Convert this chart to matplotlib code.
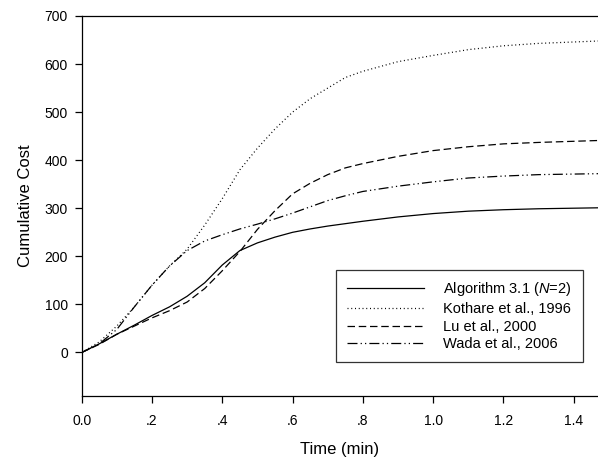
import matplotlib
matplotlib.use("Agg")
import matplotlib.pyplot as plt
import numpy as np

plt.rcParams['font.family'] = ['Liberation Sans', 'DejaVu Sans']
plt.rcParams['mathtext.fontset'] = 'custom'
plt.rcParams['mathtext.it'] = 'Liberation Sans:italic'
plt.rcParams['mathtext.rm'] = 'Liberation Sans'

# time (min)
t = [0.0, 0.05, 0.1, 0.15, 0.2, 0.25, 0.3, 0.35, 0.4, 0.45, 0.5, 0.55, 0.6,
     0.65, 0.7, 0.75, 0.8, 0.9, 1.0, 1.1, 1.2, 1.3, 1.47]

# cumulative cost of each method
algo31 = [0, 18, 38, 57, 77, 95, 117, 145, 182, 212, 228, 240, 250,
          257, 263, 268, 273, 282, 289, 294, 297, 299, 301]
kothare = [0, 22, 55, 95, 140, 180, 215, 265, 320, 380, 425, 465, 500,
           528, 550, 572, 585, 605, 618, 630, 638, 643, 648]
lu = [0, 17, 38, 55, 72, 87, 105, 133, 170, 210, 256, 295, 330,
      352, 370, 384, 393, 408, 420, 428, 434, 437, 441]
wada = [0, 18, 48, 95, 140, 180, 212, 232, 245, 257, 267, 278, 290,
        303, 316, 326, 335, 346, 355, 363, 367, 370, 372]

fig = plt.figure(figsize=(5.98, 4.57), dpi=100)
ax = fig.add_axes([0.1366, 0.134, 0.8634, 0.831])

ax.plot(t, algo31, color='black', lw=0.9, label='Algorithm 3.1 ($\\it{N}$=2)')
ax.plot(t, kothare, color='black', lw=0.9, dashes=(0.8, 2.2), label='Kothare et al., 1996')
ax.plot(t, lu, color='black', lw=0.9, dashes=(6, 3), label='Lu et al., 2000')
ax.plot(t, wada, color='black', lw=0.9, dashes=(8, 2.5, 1, 2.5, 1, 2.5), label='Wada et al., 2006')

ax.set_xlim(0, 1.469)
ax.set_ylim(-90, 700)
ax.set_xticks([0, 0.2, 0.4, 0.6, 0.8, 1.0, 1.2, 1.4])
ax.set_xticklabels(['0.0', '.2', '.4', '.6', '.8', '1.0', '1.2', '1.4'])
ax.set_yticks(np.arange(0, 701, 100))
ax.tick_params(direction='out', length=5, width=0.9, labelsize=10)
ax.tick_params(axis='x', pad=8)
ax.tick_params(axis='y', pad=5)
ax.spines['right'].set_visible(False)
for s in ['left', 'bottom', 'top']:
    ax.spines[s].set_linewidth(0.9)

ax.set_xlabel('Time (min)', fontsize=12, labelpad=10)
ax.set_ylabel('Cumulative Cost', fontsize=12, labelpad=8)

leg = ax.legend(loc='lower left', bbox_to_anchor=(0.493, 0.088), fontsize=10.5,
                handlelength=5.3, handletextpad=1.3, labelspacing=0.25,
                frameon=True, fancybox=False, borderpad=0.75, borderaxespad=0)
leg.get_frame().set_edgecolor('black')
leg.get_frame().set_linewidth(0.9)

fig.savefig('out.png', dpi=100)
